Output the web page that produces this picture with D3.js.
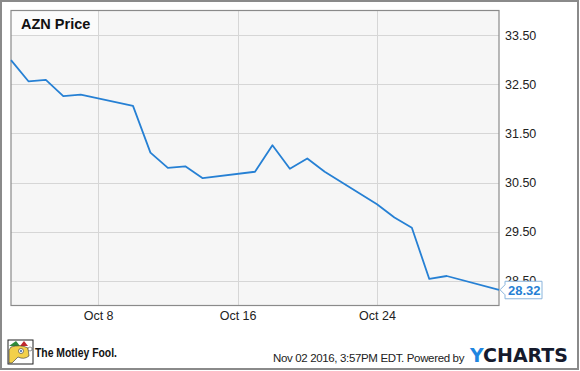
<!DOCTYPE html>
<html>
<head>
<meta charset="utf-8">
<script src="https://cdn.jsdelivr.net/npm/d3@7"></script>
<style>
  body { margin: 0; background: #fff; }
  svg { display: block; font-family: "Liberation Sans", Arial, sans-serif; }
</style>
</head>
<body>
<svg id="chart"></svg>
<script>
const dates = ['2016-10-03','2016-10-04','2016-10-05','2016-10-06','2016-10-07',
  '2016-10-10','2016-10-11','2016-10-12','2016-10-13','2016-10-14',
  '2016-10-17','2016-10-18','2016-10-19','2016-10-20','2016-10-21',
  '2016-10-24','2016-10-25','2016-10-26','2016-10-27','2016-10-28','2016-10-31'];
const prices = [32.99, 32.56, 32.59, 32.26, 32.29,
  32.06, 31.11, 30.80, 30.83, 30.59,
  30.72, 31.26, 30.78, 30.99, 30.72,
  30.06, 29.79, 29.58, 28.54, 28.60, 28.32];
const yTicks = [28.5, 29.5, 30.5, 31.5, 32.5, 33.5];
const xTicks = ['2016-10-08', '2016-10-16', '2016-10-24'];

const W = 580, H = 371;
const pLeft = 11, pRight = 499, pTop = 10.5, pBottom = 305.5;
const parse = d3.utcParse('%Y-%m-%d');
const data = dates.map((d, i) => ({ date: parse(d), value: prices[i] }));

const svg = d3.select('#chart').attr('width', W).attr('height', H);

// outer frame
svg.append('rect')
  .attr('x', 1).attr('y', 1).attr('width', W - 3).attr('height', H - 3)
  .style('fill', '#fff').style('stroke', '#8a8a8a').style('stroke-width', 2);

const x = d3.scaleUtc()
  .domain([parse('2016-10-03'), parse('2016-10-31')])
  .range([pLeft, pRight]);
const y = d3.scaleLinear()
  .domain([28, 34])
  .range([pBottom, pTop]);

svg.append('rect')
  .attr('x', pLeft).attr('y', pTop).attr('width', pRight - pLeft).attr('height', pBottom - pTop)
  .style('fill', '#f6f6f6');

// title box
svg.append('rect')
  .attr('x', pLeft).attr('y', pTop)
  .attr('width', x(parse(xTicks[0])) - pLeft).attr('height', y(33.5) - pTop)
  .style('fill', '#fbfbfb');

// grid
svg.append('g').selectAll('line').data(yTicks).join('line')
  .attr('x1', pLeft).attr('x2', pRight)
  .attr('y1', d => Math.round(y(d)) + 0.5).attr('y2', d => Math.round(y(d)) + 0.5)
  .style('stroke', '#d6d6d6');
svg.append('g').selectAll('line').data(xTicks).join('line')
  .attr('x1', d => Math.round(x(parse(d))) + 0.5).attr('x2', d => Math.round(x(parse(d))) + 0.5)
  .attr('y1', pTop).attr('y2', pBottom)
  .style('stroke', '#d6d6d6');

// plot border
svg.append('rect')
  .attr('x', pLeft).attr('y', pTop).attr('width', pRight - pLeft).attr('height', pBottom - pTop)
  .style('fill', 'none').style('stroke', '#8a8a8a').style('stroke-width', 1.2);

// axes labels
const yAxis = d3.axisRight(y).tickValues(yTicks).tickFormat(d3.format('.2f')).tickSize(0).tickPadding(6);
svg.append('g')
  .attr('transform', `translate(${pRight},0)`)
  .call(yAxis)
  .call(g => g.select('.domain').remove())
  .call(g => g.selectAll('text').style('font-size', '12.5px').style('fill', '#222')
    .style('font-family', '"Liberation Sans", Arial, sans-serif'));

const xAxis = d3.axisBottom(x).tickValues(xTicks.map(parse))
  .tickFormat(d3.utcFormat('Oct %-d')).tickSize(0).tickPadding(6);
svg.append('g')
  .attr('transform', `translate(0,${pBottom})`)
  .call(xAxis)
  .call(g => g.select('.domain').remove())
  .call(g => g.selectAll('text').style('font-size', '12.5px').style('fill', '#222')
    .style('font-family', '"Liberation Sans", Arial, sans-serif'));

svg.append('text')
  .attr('x', 21).attr('y', 29)
  .style('font-size', '14.5px').style('font-weight', 'bold').style('fill', '#111')
  .text('AZN Price');

// price line
const line = d3.line().x(d => x(d.date)).y(d => y(d.value));
svg.append('path')
  .datum(data)
  .attr('d', line)
  .style('fill', 'none').style('stroke', '#2680d4').style('stroke-width', 1.8)
  .style('stroke-linejoin', 'round');

// last value callout (drawn over the 28.50 label, as in the original)
const last = data[data.length - 1];
const ly = y(last.value);
const cx = pRight + 1;
svg.append('path')
  .attr('d', `M${cx},${ly} L${cx + 5},${ly - 5} L${cx + 5},${ly - 8.5} L${cx + 42},${ly - 8.5} L${cx + 42},${ly + 9} L${cx + 5},${ly + 9} L${cx + 5},${ly + 5} Z`)
  .style('fill', '#fff').style('stroke', '#8ab4dc').style('stroke-width', 1);
svg.append('text')
  .attr('x', cx + 8).attr('y', ly + 5)
  .style('font-size', '13px').style('font-weight', 'bold').style('fill', '#2680d4')
  .text(d3.format('.2f')(last.value));

// footer: Motley Fool logo
const logo = svg.append('g').attr('transform', 'translate(8,340)');
logo.append('rect').attr('width', 25).attr('height', 24).style('fill', '#fff').style('stroke', '#222').style('stroke-width', 1);
logo.append('path').attr('d', 'M1,6 L8,1 L12,6 Z').style('fill', '#2e8b3a');
logo.append('path').attr('d', 'M12,6 L16,1 L20,6 Z').style('fill', '#c0282d');
logo.append('path').attr('d', 'M3,7 Q12,4 20,8 L21,16 Q16,20 10,17 L4,23 L1,23 L1,10 Z').style('fill', '#f2d04a').style('stroke', '#333').style('stroke-width', 0.6);
logo.append('circle').attr('cx', 13).attr('cy', 11).attr('r', 2.5).style('fill', '#fff').style('stroke', '#333').style('stroke-width', 0.6);
logo.append('circle').attr('cx', 13).attr('cy', 11).attr('r', 1).style('fill', '#2a5fb0');
logo.append('circle').attr('cx', 22).attr('cy', 9).attr('r', 2).style('fill', '#fff').style('stroke', '#333').style('stroke-width', 0.5);
svg.append('text')
  .attr('x', 35).attr('y', 357)
  .attr('textLength', 82).attr('lengthAdjust', 'spacingAndGlyphs')
  .style('font-size', '13px').style('font-weight', 'bold').style('fill', '#111')
  .text('The Motley Fool.');

// footer: timestamp and YCharts
svg.append('text')
  .attr('x', 273).attr('y', 362)
  .style('font-size', '11.5px').style('letter-spacing', '-0.35px').style('fill', '#222')
  .text('Nov 02 2016, 3:57PM EDT.  Powered by');
const yc = svg.append('text')
  .attr('x', 470).attr('y', 362)
  .attr('textLength', 98).attr('lengthAdjust', 'spacingAndGlyphs')
  .style('font-size', '19px').style('font-weight', 'bold')
  .style('font-family', '"DejaVu Sans", sans-serif');
yc.append('tspan').style('fill', '#1f86e0').text('Y');
yc.append('tspan').style('fill', '#151a2c').text('CHARTS');
</script>
</body>
</html>
